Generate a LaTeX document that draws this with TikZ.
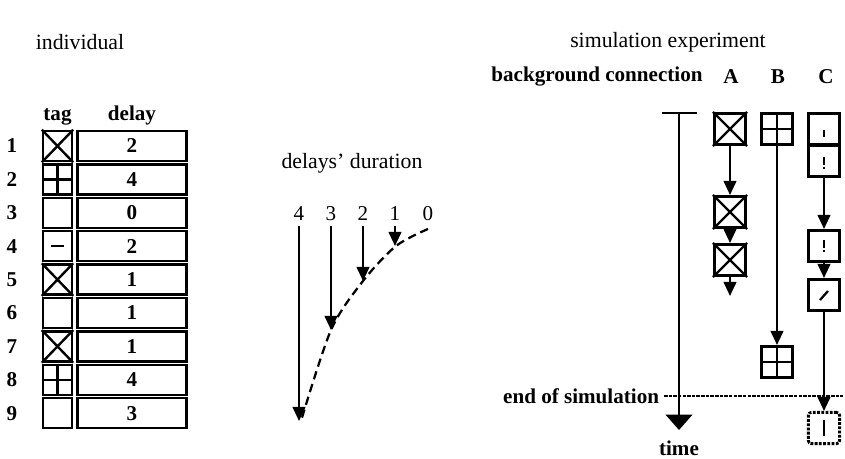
\documentclass[tikz,border=0pt]{standalone}
\usepackage{fontspec}
\setmainfont{Liberation Serif}
\usetikzlibrary{positioning,arrows.meta}

\begin{document}
\begin{tikzpicture}[x=0.25mm, y=-0.25mm,
  ttl/.style={font=\fontsize{15.5}{18}\selectfont},
  lb/.style={font=\bfseries\fontsize{15}{17}\selectfont},
  num/.style={font=\bfseries\fontsize{15}{17}\selectfont},
  cell/.style={draw, line width=1.8pt, minimum height=7.5mm, inner sep=0pt, minimum width=#1},
  sbox/.style={draw, line width=2pt, minimum size=7.8mm, inner sep=0pt},
  mk/.style={line width=1.7pt},
  bang/.style={line width=1.2pt, dash pattern=on 5.5pt off 1.5pt on 1.5pt off 6pt},
  ar/.style={-{Triangle[length=10pt,width=9pt]}, line width=1.5pt},
]
\useasboundingbox (0,0) rectangle (845,459);

% individual
\node[ttl] (ind) at (80,42) {individual};
\foreach \d [count=\i] in {2,4,0,2,1,1,1,4,3} {
  \pgfmathsetmacro\yy{146+(\i-1)*33.4}
  \node[num] (r\i) at (12,\yy) {\i};
  \node[cell=7.2mm] (t\i) at (57.5,\yy) {};
  \node[cell=27.2mm, num] (v\i) at (132,\yy) {\d};
}
\node[num, above=0mm of t1] (taghd) {tag};
\node[num, above=0mm of v1] (delayhd) {delay};

\foreach \i in {1,5,7}
  \draw[mk] (t\i.north west) -- (t\i.south east) (t\i.north east) -- (t\i.south west);
\foreach \i in {2,8}
  \draw[mk] (t\i.north) -- (t\i.south) (t\i.west) -- (t\i.east);
\draw[mk] (t4.center) ++(-6.5,0) -- ++(13,0);

% delays' duration
\node[ttl] (dur) at (352,163) {delays' duration};
\foreach \k/\x in {4/299,3/331,2/363,1/395,0/428}
  \node[font=\fontsize{15}{17}\selectfont] (d\k) at (\x,214) {\k};
\coordinate (k0) at (428,229);
\coordinate (k1) at (396,246);
\coordinate (k2) at (363,281);
\coordinate (k3) at (331,330);
\coordinate (k4) at (301,421);
\draw[line width=1.6pt, dash pattern=on 6pt off 3.5pt]
  plot[smooth] coordinates {(k0) (k1) (k2) (k3) (k4)};
\foreach \k in {1,2,3,4}
  \draw[ar] (d\k.south) -- (d\k.south |- k\k);

% simulation experiment
\node[ttl] (sim) at (668,42) {simulation experiment};
\node[lb] (bgc) at (597,77) {background connection};
\node[lb] (hA) at (731,77) {A};
\node[lb] (hB) at (778,77) {B};
\node[lb] (hC) at (826,77) {C};

\coordinate (bg) at (679,113);
\node[lb] (time) at (679,448) {time};
\draw[line width=1.7pt] (bg) ++(-17.5,0) -- ++(35,0);
\draw[line width=1.7pt, -{Triangle[length=11pt,width=19pt]}, shorten >=4pt] (bg) -- (time.north);

\node[lb, anchor=east] (eos) at (664,396) {end of simulation};
\coordinate (eosr) at (843,396);
\draw[line width=1.7pt, dash pattern=on 2.5pt off 0.8pt] (eos.east) -- (eosr);

% A
\node[sbox] (a1) at (730,129) {};
\node[sbox] (a2) at (730,212) {};
\node[sbox] (a3) at (730,260) {};
\coordinate (a4) at (730,296);
\foreach \n in {a1,a2,a3}
  \draw[mk] (\n.north west) -- (\n.south east) (\n.north east) -- (\n.south west);
\draw[ar] (a1) -- (a2);
\draw[ar] (a2) -- (a3);
\draw[ar] (a3) -- (a4);

% B
\node[sbox] (b1) at (777,129) {};
\node[sbox] (b2) at (777,362) {};
\foreach \n in {b1,b2}
  \draw[mk] (\n.north) -- (\n.south) (\n.west) -- (\n.east);
\draw[ar] (b1) -- (b2);

% C
\node[sbox] (c1) at (824,129) {};
\node[sbox] (c1b) at (824,161) {};
\node[sbox, densely dotted, rounded corners=2pt] (c4) at (824,428) {};
\node[sbox] (c2) at (824,246) {};
\node[sbox] (c3) at (824,295) {};
\draw[line width=1.2pt] (c1.center) ++(0,1) -- ++(0,7);
\draw[bang] (c1b.center) ++(0,-4) -- ++(0,13);
\draw[bang] (c2.center) ++(0,-6) -- ++(0,13);
\draw[line width=1.6pt] (c3.center) ++(-4,5) -- ++(8,-9);
\draw[line width=1.4pt] (c4.center) ++(0,-8) -- ++(0,16);
\draw[ar] (c1b) -- (c2);
\draw[ar] (c2) -- (c3);
\draw[ar] (c3) -- (c4);
\end{tikzpicture}
\end{document}
